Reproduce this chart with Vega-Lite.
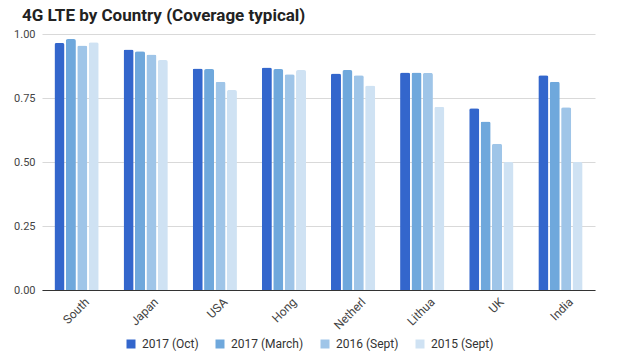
{
  "$schema": "https://vega.github.io/schema/vega-lite/v6.json",
  "autosize": "none",
  "width": 553,
  "height": 256,
  "padding": {"left": 42, "top": 34, "right": 31, "bottom": 71},
  "background": "white",
  "title": {
    "text": "4G LTE by Country (Coverage typical)",
    "anchor": "start",
    "frame": "group",
    "dx": -20,
    "offset": 3,
    "font": "Roboto",
    "fontSize": 17,
    "fontWeight": "bold",
    "color": "#222222"
  },
  "data": {
    "values": [
      {"country": "South", "series": "2017 (Oct)", "value": 0.965},
      {"country": "South", "series": "2017 (March)", "value": 0.98},
      {"country": "South", "series": "2016 (Sept)", "value": 0.955},
      {"country": "South", "series": "2015 (Sept)", "value": 0.968},
      {"country": "Japan", "series": "2017 (Oct)", "value": 0.939},
      {"country": "Japan", "series": "2017 (March)", "value": 0.933},
      {"country": "Japan", "series": "2016 (Sept)", "value": 0.92},
      {"country": "Japan", "series": "2015 (Sept)", "value": 0.898},
      {"country": "USA", "series": "2017 (Oct)", "value": 0.865},
      {"country": "USA", "series": "2017 (March)", "value": 0.863},
      {"country": "USA", "series": "2016 (Sept)", "value": 0.813},
      {"country": "USA", "series": "2015 (Sept)", "value": 0.781},
      {"country": "Hong", "series": "2017 (Oct)", "value": 0.869},
      {"country": "Hong", "series": "2017 (March)", "value": 0.863},
      {"country": "Hong", "series": "2016 (Sept)", "value": 0.843},
      {"country": "Hong", "series": "2015 (Sept)", "value": 0.859},
      {"country": "Netherl", "series": "2017 (Oct)", "value": 0.846},
      {"country": "Netherl", "series": "2017 (March)", "value": 0.859},
      {"country": "Netherl", "series": "2016 (Sept)", "value": 0.839},
      {"country": "Netherl", "series": "2015 (Sept)", "value": 0.799},
      {"country": "Lithua", "series": "2017 (Oct)", "value": 0.85},
      {"country": "Lithua", "series": "2017 (March)", "value": 0.85},
      {"country": "Lithua", "series": "2016 (Sept)", "value": 0.848},
      {"country": "Lithua", "series": "2015 (Sept)", "value": 0.716},
      {"country": "UK", "series": "2017 (Oct)", "value": 0.71},
      {"country": "UK", "series": "2017 (March)", "value": 0.658},
      {"country": "UK", "series": "2016 (Sept)", "value": 0.571},
      {"country": "UK", "series": "2015 (Sept)", "value": 0.5},
      {"country": "India", "series": "2017 (Oct)", "value": 0.839},
      {"country": "India", "series": "2017 (March)", "value": 0.813},
      {"country": "India", "series": "2016 (Sept)", "value": 0.714},
      {"country": "India", "series": "2015 (Sept)", "value": 0.5}
    ]
  },
  "mark": {"type": "bar", "cornerRadiusTopLeft": 2, "cornerRadiusTopRight": 2},
  "encoding": {
    "x": {
      "field": "country",
      "type": "nominal",
      "sort": null,
      "scale": {"paddingInner": 0.36, "paddingOuter": 0.18},
      "axis": {
        "title": null,
        "labelAngle": -45,
        "labelAlign": "right",
        "labelBaseline": "top",
        "labelFont": "Roboto",
        "labelFontSize": 12,
        "labelColor": "#444444",
        "labelOffset": 7,
        "ticks": false,
        "domainColor": "#333333",
        "labelPadding": 6
      }
    },
    "xOffset": {
      "field": "series",
      "type": "nominal",
      "sort": ["2017 (Oct)", "2017 (March)", "2016 (Sept)", "2015 (Sept)"],
      "scale": {"paddingInner": 0.12}
    },
    "y": {
      "field": "value",
      "type": "quantitative",
      "scale": {"domain": [0, 1]},
      "axis": {
        "title": null,
        "values": [0, 0.25, 0.5, 0.75, 1],
        "format": ".2f",
        "domain": false,
        "ticks": false,
        "labelFont": "Roboto",
        "labelFontSize": 11,
        "labelColor": "#444444",
        "labelPadding": 7,
        "gridColor": "#d9d9d9"
      }
    },
    "color": {
      "field": "series",
      "type": "nominal",
      "sort": ["2017 (Oct)", "2017 (March)", "2016 (Sept)", "2015 (Sept)"],
      "scale": {
        "domain": ["2017 (Oct)", "2017 (March)", "2016 (Sept)", "2015 (Sept)"],
        "range": ["#3366cc", "#6fa8dc", "#9fc5e8", "#cfe2f3"]
      },
      "legend": {
        "title": null,
        "orient": "none",
        "direction": "horizontal",
        "legendX": 83,
        "legendY": 304,
        "symbolType": "square",
        "symbolSize": 81,
        "symbolStrokeWidth": 0,
        "labelFont": "Roboto",
        "labelFontSize": 12,
        "labelColor": "#333333",
        "labelOffset": 5,
        "columnPadding": 15
      }
    }
  },
  "config": {"view": {"stroke": null}}
}
